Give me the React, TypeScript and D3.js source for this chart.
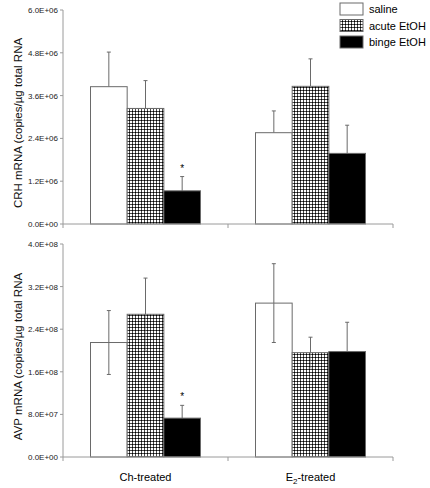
import React from "react";
import * as d3 from "d3";

const groups = ["Ch-treated", "E2-treated"];
const series = ["saline", "acute EtOH", "binge EtOH"];

const crhMean = { saline: [3.85e6, 2.56e6], acute: [3.24e6, 3.86e6], binge: [0.93e6, 1.98e6] };
const crhErr = { saline: [0.97e6, 0.61e6], acute: [0.78e6, 0.77e6], binge: [0.4e6, 0.79e6] };
const avpMean = { saline: [2.15e8, 2.89e8], acute: [2.68e8, 1.96e8], binge: [0.73e8, 1.98e8] };
const avpErr = { saline: [0.6e8, 0.74e8], acute: [0.68e8, 0.29e8], binge: [0.24e8, 0.55e8] };

const crhTicks = [0, 1.2e6, 2.4e6, 3.6e6, 4.8e6, 6.0e6];
const avpTicks = [0, 8.0e7, 1.6e8, 2.4e8, 3.2e8, 4.0e8];

const keys = ["saline", "acute", "binge"];
const sig = { crh: [false, false, true, false, false, false], avp: [false, false, true, false, false, false] };

function fmtE(v: number): string {
  if (v === 0) return "0.0E+00";
  const e = Math.floor(Math.log10(v) + 1e-9);
  const m = v / Math.pow(10, e);
  return m.toFixed(1) + "E+" + String(e).padStart(2, "0");
}

const FONT = "Liberation Sans, Arial, sans-serif";
const AX = "#9a9a9a";
const BS = "#6a6a6a";

const x0 = d3.scaleBand<string>().domain(groups).range([63, 393]).paddingInner(1 / 3).paddingOuter(1 / 6);
const x1 = d3.scaleBand<string>().domain(keys).range([0, x0.bandwidth()]);

function fillFor(k: string) {
  if (k === "saline") return "#ffffff";
  if (k === "acute") return "url(#check)";
  return "#000000";
}

function Panel({ mean, err, ticks, yTop, yBot, label, lower, sigFlags }: any) {
  const y = d3.scaleLinear().domain([0, ticks[ticks.length - 1]]).range([yBot, yTop]);
  const marks: any[] = [];
  groups.forEach((g, gi) => {
    keys.forEach((k, ki) => {
      const bx = (x0(g) as number) + (x1(k) as number);
      const bw = x1.bandwidth();
      const v = mean[k][gi];
      const e = err[k][gi];
      const cx = bx + bw / 2;
      marks.push(
        <g key={g + k}>
          <line x1={cx} x2={cx} y1={y(v)} y2={y(v + e)} stroke={BS} strokeWidth={1} />
          <line x1={cx - 2} x2={cx + 2} y1={y(v + e)} y2={y(v + e)} stroke={BS} strokeWidth={1} />
          <rect x={bx} y={y(v)} width={bw} height={yBot - y(v)} fill={fillFor(k)} stroke={BS} strokeWidth={1} />
          {lower && k !== "binge" && (
            <g opacity={k === "acute" ? 0.45 : 1}>
              <line x1={cx} x2={cx} y1={y(v)} y2={y(v - e)} stroke={BS} strokeWidth={1} />
              <line x1={cx - 2} x2={cx + 2} y1={y(v - e)} y2={y(v - e)} stroke={BS} strokeWidth={1} />
            </g>
          )}
          {sigFlags[gi * 3 + ki] && (
            <text x={cx} y={y(v + e) - 5} textAnchor="middle" fontSize={10} fontFamily={FONT}>*</text>
          )}
        </g>
      );
    });
  });
  return (
    <g>
      {marks}
      <line x1={63} x2={63} y1={yTop} y2={yBot} stroke={AX} />
      <line x1={63} x2={393} y1={yBot} y2={yBot} stroke={AX} />
      {ticks.map((t: number) => (
        <g key={t}>
          <line x1={60} x2={63} y1={y(t)} y2={y(t)} stroke={AX} />
          <text x={58} y={y(t) + 3} textAnchor="end" fontSize={8} fontFamily={FONT} fill="#222">{fmtE(t)}</text>
        </g>
      ))}
      {[63, 228, 393].map((bx) => (
        <line key={bx} x1={bx} x2={bx} y1={yBot} y2={yBot + 4} stroke={AX} />
      ))}
      <text transform={`translate(22,${(yTop + yBot) / 2 + 6}) rotate(-90)`} textAnchor="middle" fontSize={11.5} fontFamily={FONT} fill="#111">{label}</text>
    </g>
  );
}

export default function App() {
  return (
    <svg width={430} height={488} style={{ position: "absolute", left: 0, top: 0, background: "#fff" }}>
      <defs>
        <pattern id="check" width={3} height={3} patternUnits="userSpaceOnUse">
          <rect width={3} height={3} fill="#ffffff" />
          <rect x={0} y={0} width={1} height={3} fill="#4a4a4a" />
          <rect x={0} y={0} width={3} height={1} fill="#4a4a4a" />
          <rect x={0} y={0} width={1} height={1} fill="#000" />
        </pattern>
      </defs>
      <rect width={430} height={488} fill="#fff" />
      <Panel mean={crhMean} err={crhErr} ticks={crhTicks} yTop={10} yBot={224} label="CRH mRNA (copies/µg total RNA" lower={false} sigFlags={sig.crh} />
      <Panel mean={avpMean} err={avpErr} ticks={avpTicks} yTop={244} yBot={457} label="AVP mRNA (copies/µg total RNA" lower={true} sigFlags={sig.avp} />
      <text x={x0("Ch-treated")! + x0.bandwidth() / 2} y={481} textAnchor="middle" fontSize={11} fontFamily={FONT}>Ch-treated</text>
      <text x={x0("E2-treated")! + x0.bandwidth() / 2} y={481} textAnchor="middle" fontSize={11} fontFamily={FONT}>
        E<tspan fontSize={8} dy={3}>2</tspan><tspan dy={-3}>-treated</tspan>
      </text>
      {series.map((s, i) => (
        <g key={s}>
          <rect x={340} y={3 + i * 16.5} width={23} height={12} fill={fillFor(keys[i])} stroke={BS} strokeWidth={1} />
          <text x={369} y={13 + i * 16.5} fontSize={11} fontFamily={FONT}>{s}</text>
        </g>
      ))}
    </svg>
  );
}
